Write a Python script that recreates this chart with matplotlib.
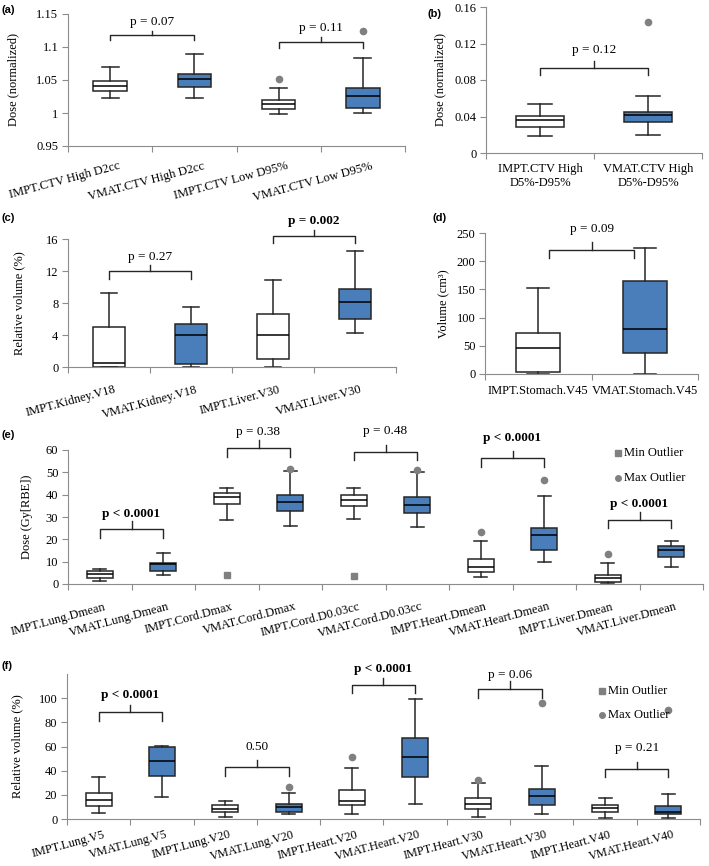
import matplotlib
matplotlib.use('Agg')
import matplotlib.pyplot as plt
from matplotlib.transforms import ScaledTranslation
import numpy as np

plt.rcParams['font.family'] = ['Liberation Serif', 'DejaVu Serif']
plt.rcParams['font.size'] = 9

nan = np.nan

# (a) target dose, normalized
a_labels = ['IMPT.CTV High D2cc', 'VMAT.CTV High D2cc', 'IMPT.CTV Low D95%', 'VMAT.CTV Low D95%']
a_low = [1.022, 1.023, 0.998, 1.000]
a_q1 = [1.033, 1.039, 1.0065, 1.008]
a_med = [1.041, 1.0515, 1.013, 1.0255]
a_q3 = [1.0485, 1.0596, 1.019, 1.0385]
a_high = [1.069, 1.089, 1.038, 1.084]
a_max_out = [nan, nan, 1.051, 1.125]

# (b) homogeneity
b_labels = ['IMPT.CTV High\nD5%-D95%', 'VMAT.CTV High\nD5%-D95%']
b_low = [0.019, 0.020]
b_q1 = [0.028, 0.034]
b_med = [0.036, 0.042]
b_q3 = [0.041, 0.045]
b_high = [0.054, 0.063]
b_max_out = [nan, 0.144]

# (c) kidney / liver relative volume
c_labels = ['IMPT.Kidney.V18', 'VMAT.Kidney.V18', 'IMPT.Liver.V30', 'VMAT.Liver.V30']
c_low = [0.0, 0.0, 0.0, 4.3]
c_q1 = [0.0, 0.4, 1.0, 6.0]
c_med = [0.45, 3.95, 4.0, 8.1]
c_q3 = [4.95, 5.4, 6.65, 9.75]
c_high = [9.3, 7.55, 10.9, 14.5]

# (d) stomach volume
d_labels = ['IMPT.Stomach.V45', 'VMAT.Stomach.V45']
d_low = [0, 0]
d_q1 = [4, 37]
d_med = [46, 79]
d_q3 = [72, 165]
d_high = [152, 223]

# (e) OAR doses
e_labels = ['IMPT.Lung.Dmean', 'VMAT.Lung.Dmean', 'IMPT.Cord.Dmax', 'VMAT.Cord.Dmax',
            'IMPT.Cord.D0.03cc', 'VMAT.Cord.D0.03cc', 'IMPT.Heart.Dmean', 'VMAT.Heart.Dmean',
            'IMPT.Liver.Dmean', 'VMAT.Liver.Dmean']
e_low = [1.2, 4.2, 28.8, 25.8, 29.1, 25.4, 3.0, 10.0, 0.3, 7.8]
e_q1 = [2.8, 5.7, 35.8, 32.7, 35.1, 31.9, 5.5, 15.2, 0.9, 12.0]
e_med = [4.3, 8.8, 38.9, 36.5, 37.6, 35.2, 7.8, 21.8, 2.8, 15.2]
e_q3 = [6.0, 9.6, 40.6, 39.8, 40.0, 39.1, 11.1, 24.9, 4.2, 17.0]
e_high = [6.9, 14.0, 42.8, 50.5, 42.8, 50.0, 19.4, 39.4, 9.3, 19.3]
e_max_out = [nan, nan, nan, 51.4, nan, 51.0, 23.4, 46.7, 13.3, nan]
e_min_out = [nan, nan, 4.2, nan, 3.6, nan, nan, nan, nan, nan]

# (f) lung / heart relative volumes
f_labels = ['IMPT.Lung.V5', 'VMAT.Lung.V5', 'IMPT.Lung.V20', 'VMAT.Lung.V20',
            'IMPT.Heart.V20', 'VMAT.Heart.V20', 'IMPT.Heart.V30', 'VMAT.Heart.V30',
            'IMPT.Heart.V40', 'VMAT.Heart.V40']
f_low = [4.7, 18.2, 1.7, 4.1, 3.9, 12.4, 1.4, 4.1, 0.5, 0.5]
f_q1 = [10.7, 35.3, 5.5, 5.5, 11.3, 35.0, 8.5, 11.8, 6.1, 3.9]
f_med = [15.7, 48.2, 8.5, 9.9, 15.2, 51.0, 12.1, 18.7, 8.8, 6.1]
f_q3 = [21.2, 59.2, 11.6, 12.1, 23.7, 66.9, 17.1, 24.8, 11.8, 10.7]
f_high = [34.7, 60.6, 15.2, 21.5, 42.4, 99.7, 30.0, 44.1, 17.1, 20.4]
f_max_out = [nan, nan, nan, 26.2, 51.5, nan, 32.2, 96.4, nan, 90.6]

# p-value brackets: (left, right, line y, leg y, notch y, text, text y, bold)
a_brackets = [(0, 1, 1.118, 1.110, 1.125, 'p = 0.07', 1.138, False),
              (2, 3, 1.107, 1.098, 1.115, 'p = 0.11', 1.129, False)]
b_brackets = [(0, 1, 0.0932, 0.0858, 0.1005, 'p = 0.12', 0.113, False)]
c_brackets = [(0, 1, 12.06, 11.0, 12.77, 'p = 0.27', 13.8, False),
              (2, 3, 16.33, 15.5, 17.17, 'p = 0.002', 18.2, True)]
d_brackets = [(0.1, 0.9, 219.4, 206.5, 234, 'p = 0.09', 257.6, False)]
e_brackets = [(0, 1, 24.5, 20.5, 28.4, 'p < 0.0001', 31.3, True),
              (2, 3, 60.7, 57.0, 64.5, 'p = 0.38', 68.2, False),
              (4, 5, 58.9, 55.5, 62.2, 'p = 0.48', 68.6, False),
              (6, 7, 56.3, 52.5, 59.7, 'p < 0.0001', 65.2, True),
              (8, 9, 28.7, 24.9, 32.4, 'p < 0.0001', 35.8, True)]
f_brackets = [(0, 1, 88.4, 81.0, 94.2, 'p < 0.0001', 103.0, True),
              (2, 3, 42.7, 35.8, 48.8, '0.50', 59.8, False),
              (4, 5, 110.7, 103.9, 117.0, 'p < 0.0001', 124.5, True),
              (6, 7, 107.9, 100.5, 114.3, 'p = 0.06', 119.0, False),
              (8, 9, 41.0, 34.5, 47.4, 'p = 0.21', 58.9, False)]

BLUE = '#4a7ebb'
EDGE = '#262626'
AXC = '#8c8c8c'
GRAY = '#808080'

W, H = 709, 866
fig = plt.figure(figsize=(W / 100, H / 100), dpi=100)


def axes_px(x0, y0, x1, y1):
    return fig.add_axes([x0 / W, 1 - y1 / H, (x1 - x0) / W, (y1 - y0) / H])


def boxes(ax, labels, low, q1, med, q3, high, width, rot, ylim, yticks,
          yticklabels=None, pad=9, dx=0, xsize=9):
    n = len(labels)
    pos = np.arange(n)
    stats = [dict(whislo=l, q1=a, med=m, q3=b, whishi=h, fliers=[])
             for l, a, m, b, h in zip(low, q1, med, q3, high)]
    art = ax.bxp(stats, positions=pos, widths=width, patch_artist=True, showfliers=False,
                 manage_ticks=False,
                 boxprops=dict(edgecolor=EDGE, linewidth=1.1),
                 medianprops=dict(color='black', linewidth=1.1),
                 whiskerprops=dict(color=EDGE, linewidth=1.1),
                 capprops=dict(color=EDGE, linewidth=1.1))
    for i, patch in enumerate(art['boxes']):
        patch.set_facecolor('white' if i % 2 == 0 else BLUE)
    ax.set_xlim(-0.5, n - 0.5)
    ax.set_ylim(*ylim)
    ax.set_yticks(yticks)
    if yticklabels is not None:
        ax.set_yticklabels(yticklabels)
    ax.set_xticks(np.arange(n + 1) - 0.5)
    ax.set_xticklabels([])
    if rot:
        ax.set_xticks(pos, labels, minor=True, rotation=rot, ha='right', va='top',
                      rotation_mode='anchor')
    else:
        ax.set_xticks(pos, labels, minor=True, ha='center', va='top')
    ax.tick_params(axis='x', which='minor', length=0, pad=pad, labelsize=xsize)
    ax.tick_params(axis='x', which='major', length=4, color=AXC, width=0.8)
    ax.tick_params(axis='y', length=4, color=AXC, width=0.8, pad=3, labelsize=9)
    for s in ['top', 'right']:
        ax.spines[s].set_visible(False)
    for s in ['left', 'bottom']:
        ax.spines[s].set_color(AXC)
        ax.spines[s].set_linewidth(0.8)
    if dx:
        shift = ScaledTranslation(dx / 100, 0, fig.dpi_scale_trans)
        for lab in ax.get_xticklabels(minor=True):
            lab.set_transform(lab.get_transform() + shift)
    return pos


def brackets(ax, items):
    for x1, x2, y, leg, notch, txt, ty, bold in items:
        xm = (x1 + x2) / 2
        ax.plot([x1, x1, x2, x2], [leg, y, y, leg], color=EDGE, lw=1.0, clip_on=False,
                solid_joinstyle='round')
        ax.plot([xm, xm], [y, notch], color=EDGE, lw=1.0, clip_on=False)
        ax.text(xm, ty, txt, ha='center', va='center', fontsize=9.5,
                fontweight='bold' if bold else 'normal', clip_on=False)


def outliers(ax, pos, vals, marker):
    ax.plot(pos, vals, marker, color=GRAY, ms=4.5, ls='none', clip_on=False)


def panel_label(x, y, s):
    fig.text(x / W, 1 - y / H, s, family='Liberation Sans', fontweight='bold',
             fontsize=8, ha='left', va='center')


def ylabel_px(ax, text, x_px, x0, x1):
    ax.set_ylabel(text, fontsize=9)
    ax.yaxis.set_label_coords((x_px - x0) / (x1 - x0), 0.5)


def legend_px(ax, x, y, marker, text):
    ax.plot([x / W], [1 - y / H], marker, color=GRAY, ms=4, transform=fig.transFigure,
            clip_on=False)
    fig.text((x + 6) / W, 1 - y / H, text, ha='left', va='center', fontsize=9)


# (a)
ax = axes_px(68, 14, 405, 146)
pos = boxes(ax, a_labels, a_low, a_q1, a_med, a_q3, a_high, 0.4, 15,
            (0.95, 1.15), [0.95, 1.0, 1.05, 1.1, 1.15], ['0.95', '1', '1.05', '1.1', '1.15'],
            pad=10, dx=8)
outliers(ax, pos, a_max_out, 'o')
brackets(ax, a_brackets)
ylabel_px(ax, 'Dose (normalized)', 19, 68, 405)
panel_label(2, 10, '(a)')

# (b)
ax = axes_px(486, 7, 702, 153)
pos = boxes(ax, b_labels, b_low, b_q1, b_med, b_q3, b_high, 0.45, 0,
            (0, 0.16), [0, 0.04, 0.08, 0.12, 0.16], ['0', '0.04', '0.08', '0.12', '0.16'],
            pad=7)
outliers(ax, pos, b_max_out, 'o')
brackets(ax, b_brackets)
ylabel_px(ax, 'Dose (normalized)', 446, 486, 702)
panel_label(428, 14, '(b)')

# (c)
ax = axes_px(68, 239, 396, 367)
pos = boxes(ax, c_labels, c_low, c_q1, c_med, c_q3, c_high, 0.4, 15,
            (0, 16), [0, 4, 8, 12, 16], pad=12, dx=5)
brackets(ax, c_brackets)
ylabel_px(ax, 'Relative volume (%)', 25, 68, 396)
panel_label(2, 218, '(c)')

# (d)
ax = axes_px(485, 233, 698, 374)
pos = boxes(ax, d_labels, d_low, d_q1, d_med, d_q3, d_high, 0.41, 0,
            (0, 250), [0, 50, 100, 150, 200, 250], pad=8)
brackets(ax, d_brackets)
ylabel_px(ax, 'Volume (cm³)', 449, 485, 698)
panel_label(432, 218, '(d)')

# (e)
ax = axes_px(68, 450, 703, 584)
pos = boxes(ax, e_labels, e_low, e_q1, e_med, e_q3, e_high, 0.41, 15,
            (0, 60), [0, 10, 20, 30, 40, 50, 60], pad=12, dx=4)
outliers(ax, pos, e_max_out, 'o')
outliers(ax, pos, e_min_out, 's')
brackets(ax, e_brackets)
ylabel_px(ax, 'Dose (Gy[RBE])', 33, 68, 703)
legend_px(ax, 618, 453, 's', 'Min Outlier')
legend_px(ax, 618, 478, 'o', 'Max Outlier')
panel_label(2, 435, '(e)')

# (f)
ax = axes_px(67, 674, 700, 819)
pos = boxes(ax, f_labels, f_low, f_q1, f_med, f_q3, f_high, 0.41, 15,
            (0, 120), [0, 20, 40, 60, 80, 100], pad=7, dx=4, xsize=8.8)
outliers(ax, pos, f_max_out, 'o')
brackets(ax, f_brackets)
ylabel_px(ax, 'Relative volume (%)', 23, 67, 700)
legend_px(ax, 602, 691, 's', 'Min Outlier')
legend_px(ax, 602, 715, 'o', 'Max Outlier')
panel_label(2, 666, '(f)')

fig.savefig('out.png', dpi=100)
